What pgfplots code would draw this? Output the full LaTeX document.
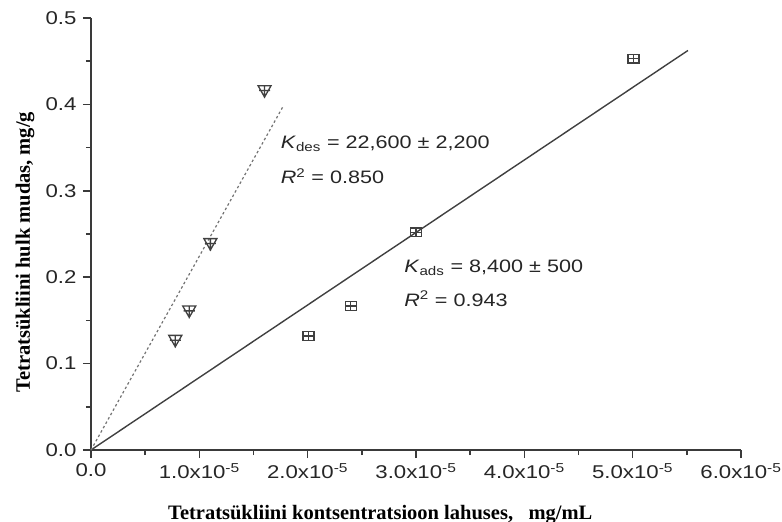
\documentclass[border=0pt]{standalone}
\usepackage{fontspec}
\setmainfont{Liberation Sans}
\newfontfamily\serifb{Liberation Serif}
\usepackage{pgfplots}
\pgfplotsset{compat=1.18}
\newcommand\ws[1]{\scalebox{1.2}[1]{#1}}
\definecolor{axgray}{HTML}{3A3A3A}
\pgfdeclareplotmark{dtriplus}{%
  \pgfpathmoveto{\pgfpoint{-\pgfplotmarksize}{0.75\pgfplotmarksize}}%
  \pgfpathlineto{\pgfpoint{\pgfplotmarksize}{0.75\pgfplotmarksize}}%
  \pgfpathlineto{\pgfpoint{0pt}{-\pgfplotmarksize}}%
  \pgfpathclose
  \pgfpathmoveto{\pgfpoint{0pt}{0.75\pgfplotmarksize}}%
  \pgfpathlineto{\pgfpoint{0pt}{-1.15\pgfplotmarksize}}%
  \pgfpathmoveto{\pgfpoint{-0.85\pgfplotmarksize}{0pt}}%
  \pgfpathlineto{\pgfpoint{0.85\pgfplotmarksize}{0pt}}%
  \pgfusepathqstroke}
\pgfdeclareplotmark{sqplus}{%
  \pgfpathrectangle{\pgfpoint{-\pgfplotmarksize}{-0.8\pgfplotmarksize}}{\pgfpoint{2\pgfplotmarksize}{1.6\pgfplotmarksize}}%
  \pgfpathmoveto{\pgfpoint{0pt}{-0.8\pgfplotmarksize}}%
  \pgfpathlineto{\pgfpoint{0pt}{0.8\pgfplotmarksize}}%
  \pgfpathmoveto{\pgfpoint{-\pgfplotmarksize}{0pt}}%
  \pgfpathlineto{\pgfpoint{\pgfplotmarksize}{0pt}}%
  \pgfusepathqstroke}
\begin{document}
\begin{tikzpicture}
\begin{axis}[
  scale only axis, width=650pt, height=432pt,
  at={(0,0)}, anchor=south west,
  xmin=0, xmax=6e-5, ymin=0, ymax=0.5,
  axis x line*=bottom, axis y line*=left,
  scaled x ticks=false, scaled y ticks=false,
  xtick={0,1e-5,2e-5,3e-5,4e-5,5e-5,6e-5},
  xticklabels={\ws{0.0},\ws{1.0x10\textsuperscript{-5}},\ws{2.0x10\textsuperscript{-5}},\ws{3.0x10\textsuperscript{-5}},\ws{4.0x10\textsuperscript{-5}},\ws{5.0x10\textsuperscript{-5}},\ws{6.0x10\textsuperscript{-5}}},
  ytick={0,0.1,0.2,0.3,0.4,0.5},
  yticklabels={\ws{0.0},\ws{0.1},\ws{0.2},\ws{0.3},\ws{0.4},\ws{0.5}},
  minor x tick num=1, minor y tick num=1,
  tick align=outside,
  major tick length=8pt, minor tick length=5pt,
  axis line style={line width=2pt, axgray},
  every tick/.style={line width=1.6pt, axgray},
  every minor tick/.style={line width=1.6pt, axgray},
  tick label style={font=\fontsize{18.5}{20}\selectfont, text=black!85},
  xticklabel style={yshift=-2pt},
  yticklabel style={xshift=-3pt},
  label style={font=\serifb\bfseries\fontsize{20.5}{24}\selectfont},
  xlabel={Tetratsükliini kontsentratsioon lahuses,\ \ \ mg/mL},
  ylabel={Tetratsükliini hulk mudas, mg/g},
  xlabel style={at={(axis description cs:0.445,0)}, anchor=base, yshift=-69pt},
  ylabel style={at={(axis description cs:-0.1015,0.458)}, anchor=center},
  clip=false,
]
% fitted lines
\addplot[line width=1.4pt, color=black!75] coordinates {(0,0) (5.51e-5,0.4624)};
\addplot[line width=1.2pt, color=black!55, dash pattern=on 2.5pt off 2.5pt] coordinates {(0,0) (1.77e-5,0.397)};
% desorption data
\addplot[only marks, mark=dtriplus, mark size=6.5pt, mark options={line width=1.3pt, draw=black!75}] coordinates {
  (0.778e-5,0.127) (0.907e-5,0.161) (1.102e-5,0.239) (1.602e-5,0.416)};
% adsorption data
\addplot[only marks, mark=sqplus, mark size=5.5pt, mark options={line width=1.3pt, draw=black!75}] coordinates {
  (2.009e-5,0.132) (2.398e-5,0.1665) (3.0e-5,0.252) (5.009e-5,0.453)};
% annotations
\node[anchor=base west, font=\fontsize{18}{20}\selectfont, text=black!85] at (axis cs:1.72e-5,0.349)
  {\ws{\textit{K}\textsubscript{des} = 22,600 ± 2,200}};
\node[anchor=base west, font=\fontsize{18}{20}\selectfont, text=black!85] at (axis cs:1.72e-5,0.3087)
  {\ws{\textit{R}\textsuperscript{2} = 0.850}};
\node[anchor=base west, font=\fontsize{18}{20}\selectfont, text=black!85] at (axis cs:2.86e-5,0.2058)
  {\ws{\textit{K}\textsubscript{ads} = 8,400 ± 500}};
\node[anchor=base west, font=\fontsize{18}{20}\selectfont, text=black!85] at (axis cs:2.86e-5,0.1665)
  {\ws{\textit{R}\textsuperscript{2} = 0.943}};
\end{axis}
\pgfresetboundingbox
\path (-91pt,-72pt) rectangle (691pt,450pt);
\end{tikzpicture}
\end{document}
